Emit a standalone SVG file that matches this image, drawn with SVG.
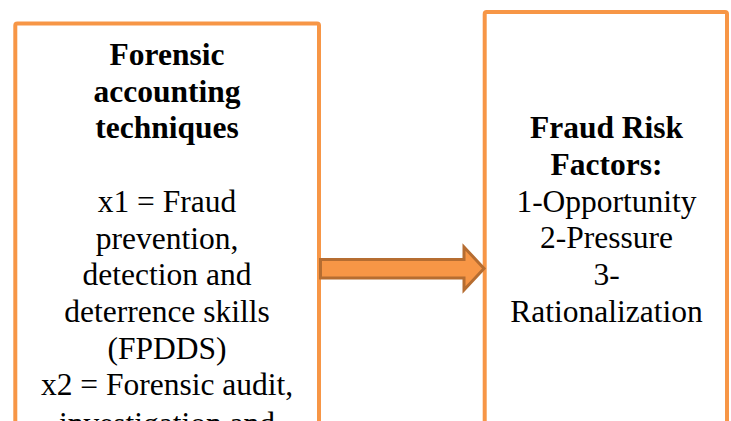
<svg xmlns="http://www.w3.org/2000/svg" width="731" height="421" viewBox="0 0 731 421">
<style>
.box{fill:#FFFFFF;stroke:#F79646;stroke-width:4}
.t{font-family:"Liberation Serif","Times New Roman",serif;font-size:31.5px;fill:#000000;text-anchor:middle}
.b{font-weight:bold}
.arrow{fill:#F79646;stroke:#B66D31;stroke-width:3;stroke-linejoin:miter}
</style>
<rect width="731" height="421" fill="#FFFFFF"/>
<g id="node-forensic">
<rect class="box" x="15.3" y="23.5" width="303.7" height="430" rx="2"/>
<text class="t b" x="167" y="65">Forensic</text>
<text class="t b" x="167" y="101.7">accounting</text>
<text class="t b" x="167" y="138.4">techniques</text>
<text class="t" x="167" y="211.8">x1 = Fraud</text>
<text class="t" x="167" y="248.5">prevention,</text>
<text class="t" x="167" y="285.2">detection and</text>
<text class="t" x="167" y="321.9">deterrence skills</text>
<text class="t" x="167" y="358.6">(FPDDS)</text>
<text class="t" x="167" y="395.3">x2 = Forensic audit,</text>
<text class="t" x="167" y="434">investigation and</text>
</g>
<g id="node-risk">
<rect class="box" x="484.7" y="12" width="242.3" height="440" rx="2"/>
<text class="t b" x="606.5" y="138.3">Fraud Risk</text>
<text class="t b" x="606.5" y="175">Factors:</text>
<text class="t" x="606.5" y="211.7">1-Opportunity</text>
<text class="t" x="606.5" y="248.4">2-Pressure</text>
<text class="t" x="606.5" y="285.1">3-</text>
<text class="t" x="606.5" y="321.8">Rationalization</text>
</g>
<g id="connectors">
<polygon class="arrow" points="320.5,259.5 464,259.5 464,247 484,268.5 464,290 464,278 320.5,278"/>
</g>
</svg>
